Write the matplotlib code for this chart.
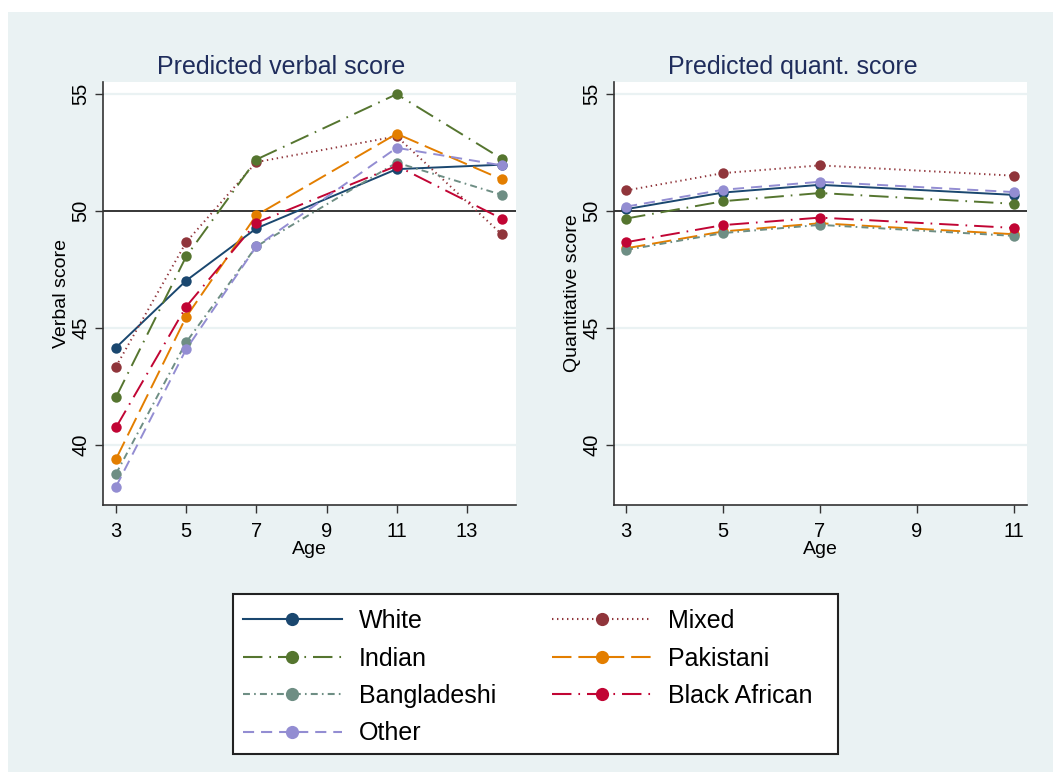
import numpy as np
import matplotlib
matplotlib.use("Agg")
import matplotlib.pyplot as plt
from matplotlib.lines import Line2D
from matplotlib.patches import Rectangle

plt.rcParams["font.family"] = ["Liberation Sans", "DejaVu Sans"]
plt.rcParams["lines.scale_dashes"] = False

# data
ages_verbal = [3, 5, 7, 11, 14]
ages_quant = [3, 5, 7, 11]

groups = ["White", "Mixed", "Indian", "Pakistani", "Bangladeshi", "Black African", "Other"]

verbal_white = [44.16, 47.02, 49.25, 51.78, 51.97]
verbal_mixed = [43.35, 48.66, 52.08, 53.18, 48.99]
verbal_indian = [42.04, 48.05, 52.19, 54.98, 52.22]
verbal_pakistani = [39.40, 45.47, 49.81, 53.29, 51.34]
verbal_bangladeshi = [38.77, 44.39, 48.48, 52.06, 50.68]
verbal_blackafrican = [40.75, 45.91, 49.49, 51.92, 49.66]
verbal_other = [38.22, 44.09, 48.48, 52.69, 51.94]

quant_white = [50.07, 50.78, 51.11, 50.68]
quant_mixed = [50.87, 51.61, 51.94, 51.50]
quant_indian = [49.67, 50.41, 50.76, 50.30]
quant_pakistani = [48.40, 49.12, 49.47, 49.00]
quant_bangladeshi = [48.33, 49.05, 49.40, 48.93]
quant_blackafrican = [48.66, 49.39, 49.71, 49.27]
quant_other = [50.18, 50.90, 51.24, 50.80]

verbal_series = [verbal_white, verbal_mixed, verbal_indian, verbal_pakistani,
                 verbal_bangladeshi, verbal_blackafrican, verbal_other]
quant_series = [quant_white, quant_mixed, quant_indian, quant_pakistani,
                quant_bangladeshi, quant_blackafrican, quant_other]

# stata s2color style
colors = ["#1a476f", "#90353b", "#55752f", "#e37e00", "#6e8e84", "#c10534", "#938dd2"]
dashes = [None, (1, 2.6), (14, 5, 1.2, 5), (14, 5), (5, 3, 1.2, 3), (14, 5, 1.2, 5), (8, 5)]

bg = "#eaf2f3"
title_col = "#1f2d5c"

fig = plt.figure(figsize=(10.53, 7.72), dpi=100)
fig.patch.set_facecolor("white")
fig.patches.append(Rectangle((8 / 1053, 0), 1, 1 - 12 / 772, transform=fig.transFigure,
                             facecolor=bg, edgecolor="none", zorder=-10))

axL = fig.add_axes([103 / 1053, 1 - 505 / 772, 413 / 1053, 423 / 772])
axR = fig.add_axes([614 / 1053, 1 - 505 / 772, 413 / 1053, 423 / 772])


def draw_panel(ax, ages, series, title, ylabel, xlim, xticks):
    for y in [40, 45, 55]:
        ax.axhline(y, color=bg, lw=1.6, zorder=0)
    ax.axhline(50, color="black", lw=1.1, zorder=1)
    for vals, c, d in zip(series, colors, dashes):
        line, = ax.plot(ages, vals, color=c, lw=1.4, marker="o", markersize=7.5,
                        markeredgewidth=0, zorder=3)
        if d is not None:
            line.set_dashes(d)
    ax.set_xlim(*xlim)
    ax.set_ylim(37.44, 55.5)
    ax.set_xticks(xticks)
    ax.set_yticks([40, 45, 50, 55])
    # stata centres the title over the panel incl. the y title area
    ax.set_title(title, color=title_col, fontsize=18, pad=6, x=0.5 - 28 / 413)
    ax.set_xlabel("Age", fontsize=14, labelpad=0)
    ax.set_ylabel(ylabel, fontsize=14, labelpad=1)
    ax.tick_params(axis="both", labelsize=14.5, length=6, width=1, color="#333333", pad=6)
    ax.tick_params(axis="y", pad=3)
    for lab in ax.get_yticklabels():
        lab.set_rotation(90)
        lab.set_va("center")
    ax.spines["top"].set_visible(False)
    ax.spines["right"].set_visible(False)
    ax.spines["left"].set_color("#333333")
    ax.spines["bottom"].set_color("#333333")
    ax.spines["left"].set_linewidth(1.2)
    ax.spines["bottom"].set_linewidth(1.2)
    ax.set_facecolor("white")


draw_panel(axL, ages_verbal, verbal_series, "Predicted verbal score", "Verbal score",
           (2.63, 14.4), [3, 5, 7, 9, 11, 13])
draw_panel(axR, ages_quant, quant_series, "Predicted quant. score", "Quantitative score",
           (2.75, 11.27), [3, 5, 7, 9, 11])

# legend box drawn by hand (stata uses equal-width columns)
fig.patches.append(Rectangle((233 / 1053, 1 - 754 / 772), 605 / 1053, 160 / 772,
                             transform=fig.transFigure, facecolor="white",
                             edgecolor="#222222", lw=1.5, zorder=5))

# column-wise order so rows read White/Mixed, Indian/Pakistani, ...
order = [0, 2, 4, 6, 1, 3, 5]
handles = []
for i in order:
    h = Line2D([], [], color=colors[i], lw=1.5, marker="o", markersize=9.5, markeredgewidth=0)
    if dashes[i] is not None:
        h.set_dashes(dashes[i])
    handles.append(h)
labels = [groups[i] for i in order]
leg = fig.legend(handles, labels, loc="upper left", bbox_to_anchor=(243 / 1053, 1 - 609 / 772),
                 ncol=2, fontsize=18, handlelength=3.95, handletextpad=0.68,
                 columnspacing=2.25, labelspacing=0.54, borderpad=0, fancybox=False,
                 numpoints=1, frameon=False, borderaxespad=0)
leg.set_zorder(6)

fig.savefig("out.png", dpi=100, facecolor=fig.get_facecolor())
